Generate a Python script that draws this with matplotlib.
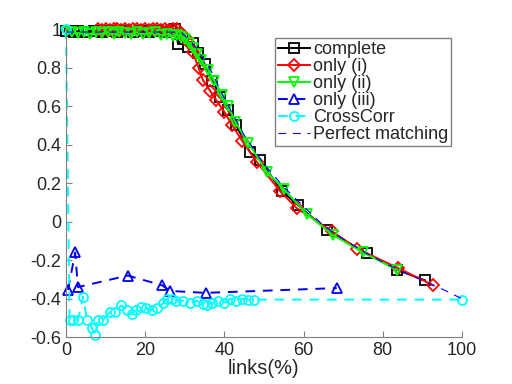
import matplotlib
matplotlib.use("Agg")
import matplotlib.pyplot as plt

plt.rcParams['font.family'] = ['Liberation Sans', 'DejaVu Sans']
plt.rcParams['font.size'] = 13

# ---------------- data ----------------
complete_x = [0, 1, 2, 3, 5, 7, 9, 11, 13, 15, 17, 19, 21, 23, 25, 26.5, 27.5, 28.3, 29.5, 30.8, 32, 33.4,
              35, 37, 39, 40.9, 43, 46.5, 49, 54.5, 58.6, 65.9, 76, 83.6, 90.7]
complete_y = [0.99, 0.99, 0.985, 0.99, 0.985, 0.99, 0.985, 0.99, 0.985, 0.99, 0.985, 0.99, 0.985, 0.99, 0.985,
              0.99, 1.0, 0.925, 0.95, 0.905, 0.93, 0.875, 0.82, 0.73, 0.65, 0.58, 0.5, 0.36, 0.32, 0.16, 0.086,
              -0.044, -0.165, -0.25, -0.305]

only_i_x = [8, 9, 10, 11, 12, 13, 14, 15, 16, 17, 18, 19, 20, 21, 22, 23, 24, 25, 26, 27, 28, 29, 30,
            31, 32, 33.5, 34.6, 36.4, 38, 40, 42, 44.5, 48.2, 54, 58.3, 67.2, 73.5, 83.8, 92.7]
only_i_y = [1.0, 0.995, 1.0, 0.995, 1.0, 1.0, 0.995, 1.0, 0.995, 1.0, 1.0, 0.995, 1.0, 0.995, 1.0, 1.0,
            0.995, 1.0, 0.995, 1.0, 1.0, 0.98, 0.96, 0.93, 0.88, 0.8, 0.735, 0.68, 0.63, 0.57, 0.5, 0.42,
            0.31, 0.16, 0.07, -0.05, -0.14, -0.24, -0.33]

only_ii_x = [0, 1.5, 3, 4.5, 6, 7.5, 9, 10.5, 12, 13.5, 15, 16.5, 18, 19.5, 21, 22.5, 24, 25.5, 27, 28,
             29, 30, 31, 32, 33, 34, 35.9, 37.5, 39.4, 41, 42.7, 46, 50.7, 55, 60.8, 67.5, 75, 83.6]
only_ii_y = [0.985, 0.985, 0.98, 0.985, 0.975, 0.985, 0.98, 0.985, 0.975, 0.985, 0.98, 0.975, 0.985, 0.975,
             0.98, 0.985, 0.97, 0.975, 0.965, 0.97, 0.96, 0.95, 0.93, 0.9, 0.87, 0.84, 0.79, 0.73, 0.66,
             0.6, 0.52, 0.41, 0.26, 0.17, 0.04, -0.07, -0.16, -0.25]

only_iii_x = [0.5, 2.3, 3.0, 15.6, 24.2, 26.3, 35.3, 68.4]
only_iii_y = [-0.355, -0.16, -0.34, -0.28, -0.33, -0.36, -0.37, -0.345]

crosscorr_x = [0, 0.9, 1.8, 3.0, 4.3, 5.3, 6.5, 7.3, 8.1, 9.4, 11, 12.4, 14, 15.3, 16.6, 17.8, 19, 20.3,
               21.6, 22.9, 24.5, 25.4, 26.7, 27.9, 29.5, 31.2, 33, 34.5, 35.5, 37, 38.5, 40, 41.5, 43,
               44.5, 46, 47.5, 100]
crosscorr_y = [1.0, -0.51, -0.51, -0.51, -0.39, -0.51, -0.55, -0.59, -0.51, -0.51, -0.47, -0.47, -0.435,
               -0.46, -0.48, -0.46, -0.445, -0.45, -0.46, -0.45, -0.425, -0.4, -0.4, -0.41, -0.41, -0.42,
               -0.41, -0.43, -0.435, -0.42, -0.41, -0.42, -0.4, -0.41, -0.4, -0.405, -0.405, -0.405]

perfect_x = [0, 29, 31, 33, 35, 37, 40, 45, 50, 55, 60, 65, 70, 75, 80, 85, 90, 95, 100]
perfect_y = [0.985, 0.985, 0.95, 0.9, 0.84, 0.77, 0.64, 0.45, 0.3, 0.18, 0.08, -0.02, -0.09, -0.155,
             -0.21, -0.26, -0.305, -0.35, -0.4]

xticks = [0, 20, 40, 60, 80, 100]
yticks = [-0.6, -0.4, -0.2, 0, 0.2, 0.4, 0.6, 0.8, 1]
ytick_labels = ['-0.6', '-0.4', '-0.2', '0', '0.2', '0.4', '0.6', '0.8', '1']

# ---------------- plot ----------------
fig = plt.figure(figsize=(5.12, 3.84), dpi=100)
ax = fig.add_axes([0.129, 0.122, 0.773, 0.802])

mk = dict(markerfacecolor='none', markersize=6.5, markeredgewidth=1.3, clip_on=False)
ax.plot(complete_x, complete_y, '-', color='black', marker='s', lw=1.4, label='complete', **mk)
ax.plot(only_i_x, only_i_y, '-', color='red', marker='D', lw=1.4, label='only (i)',
        markerfacecolor='none', markersize=6.2, markeredgewidth=1.3, clip_on=False)
ax.plot(only_ii_x, only_ii_y, '-', color='#00ff00', marker='v', lw=1.4, label='only (ii)', **mk)
ax.plot(only_iii_x, only_iii_y, '--', color='#0000ee', marker='^', lw=1.4, label='only (iii)',
        dashes=(5, 4), **mk)
ax.plot(crosscorr_x, crosscorr_y, '--', color='cyan', marker='o', lw=1.4, label='CrossCorr',
        dashes=(5, 4), **mk)
ax.plot(perfect_x, perfect_y, '--', color='blue', lw=0.8, label='Perfect matching', dashes=(7, 6))

ax.set_xlim(0, 100)
ax.set_ylim(-0.6, 1)
ax.set_xticks(xticks)
ax.set_yticks(yticks)
ax.set_yticklabels(ytick_labels)
ax.set_xlabel('links(%)', labelpad=0, fontsize=14.5)

for s in ['top', 'right']:
    ax.spines[s].set_visible(False)
for s in ['left', 'bottom']:
    ax.spines[s].set_color('#808080')
ax.tick_params(direction='in', colors='#808080', labelcolor='#262626', length=4)
ax.xaxis.label.set_color('#262626')

leg = ax.legend(loc='upper left', bbox_to_anchor=(0.528, 0.971), frameon=True, fancybox=False,
                framealpha=1, edgecolor='#808080', handlelength=1.8, handletextpad=0.15,
                labelspacing=0.0, borderpad=0.15, borderaxespad=0)
leg.get_frame().set_linewidth(1.0)
for t in leg.get_texts():
    t.set_color('#262626')

fig.savefig('out.png', dpi=100)
